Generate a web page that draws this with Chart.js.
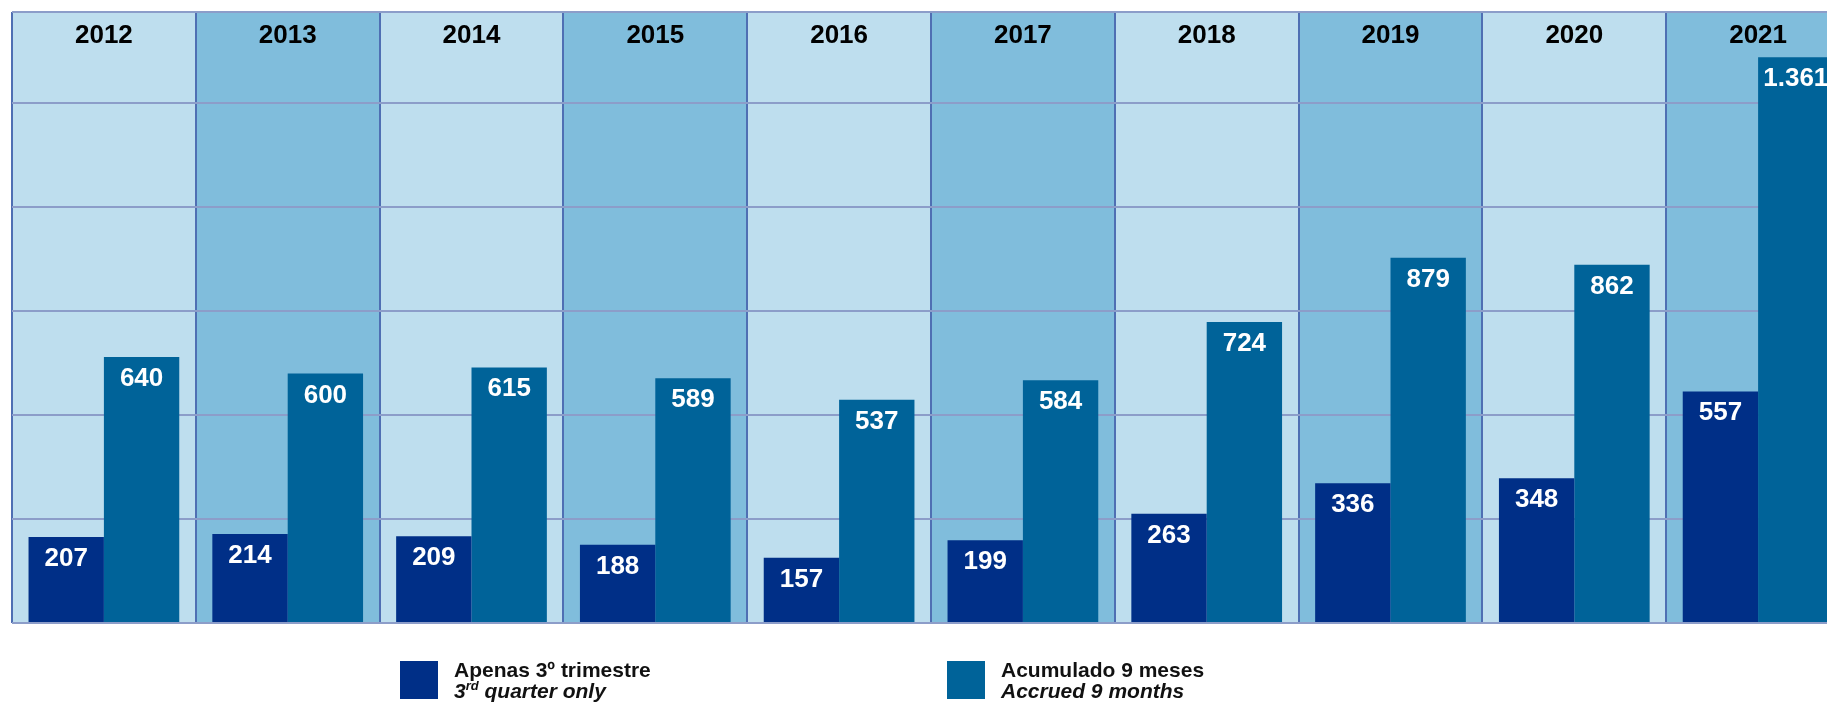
<!DOCTYPE html>
<html>
<head>
<meta charset="utf-8">
<script src="https://cdn.jsdelivr.net/npm/chart.js@4.4.1/dist/chart.umd.min.js"></script>
<style>
    html, body { margin: 0; padding: 0; background: #fff; overflow: hidden; width: 1827px; height: 703px; }
    #wrap { position: relative; width: 1852px; height: 703px; }
    #grafico { display: block; }
    .legenda { position: absolute; top: 661px; font-family: "Liberation Sans", Arial, sans-serif; font-weight: bold; font-size: 21px; line-height: 21px; color: #111; }
    .legenda .caixa { position: absolute; left: 0; top: 0; width: 38px; height: 38px; }
    .legenda .txt { position: absolute; left: 54px; top: -2px; white-space: nowrap; }
    .legenda i sup { font-size: 13px; line-height: 0; }
</style>
</head>
<body>
<div id="wrap">
    <canvas id="grafico" width="1852" height="703"></canvas>

    <div class="legenda" style="left:400px">
        <div class="caixa" style="background:#002F87"></div>
        <div class="txt">Apenas 3º trimestre<br><i>3<sup>rd</sup> quarter only</i></div>
    </div>
    <div class="legenda" style="left:947px">
        <div class="caixa" style="background:#006399"></div>
        <div class="txt">Acumulado 9 meses<br><i>Accrued 9 months</i></div>
    </div>
</div>

<script>
// ============================================================================
// DADOS
// ============================================================================
const anos = ["2012","2013","2014","2015","2016","2017","2018","2019","2020","2021"];
const apenasTrimestre = [207, 214, 209, 188, 157, 199, 263, 336, 348, 557];
const acumulado9Meses = [640, 600, 615, 589, 537, 584, 724, 879, 862, 1361];
// linhas horizontais (a √∫ltima √© a borda de cima)
const ticksY = [0, 250, 500, 750, 1000, 1250, 1470];

const corTrimestre = '#002F87';
const corAcumulado = '#006399';
const fundoClaro = '#BEDEEE';
const fundoEscuro = '#80BDDC';

// 1361 -> "1.361"
function formatarNumero(v) {
    return String(v).replace(/\B(?=(\d{3})+(?!\d))/g, '.');
}


// ============================================================================
// PLUGIN: colunas de fundo alternadas
// ============================================================================
const fundoColunas = {
    id: 'fundoColunas',
    beforeDraw(chart) {
        const { ctx, chartArea, scales } = chart;
        const x = scales.x;
        const larg = x.width / anos.length;

        ctx.save();
        anos.forEach((a, i) => {
            const esq = x.getPixelForValue(i) - larg / 2;
            ctx.fillStyle = i % 2 === 0 ? fundoClaro : fundoEscuro;
            ctx.fillRect(esq, chartArea.top, larg, chartArea.bottom - chartArea.top);
        });
        ctx.restore();
    }
};


// ============================================================================
// PLUGIN: anos no topo + valores nas barras
// ============================================================================
const textos = {
    id: 'textos',
    afterDatasetsDraw(chart) {
        const { ctx, scales } = chart;
        ctx.save();
        ctx.font = 'bold 26px "Liberation Sans", Arial, sans-serif';
        ctx.textAlign = 'center';
        ctx.textBaseline = 'alphabetic';

        // anos
        ctx.fillStyle = '#000';
        anos.forEach((a, i) => {
            ctx.fillText(a, scales.x.getPixelForValue(i), chart.chartArea.top + 31);
        });

        // valores
        ctx.fillStyle = '#fff';
        chart.data.datasets.forEach((ds, d) => {
            chart.getDatasetMeta(d).data.forEach((barra, i) => {
                ctx.fillText(formatarNumero(ds.data[i]), barra.x, barra.y + 29);
            });
        });
        ctx.restore();
    }
};


// ============================================================================
// GR√ÅFICO
// ============================================================================
new Chart(document.getElementById('grafico'), {
    type: 'bar',
    data: {
        labels: anos,
        datasets: [
            { label: 'Apenas 3º trimestre', data: apenasTrimestre, backgroundColor: corTrimestre },
            { label: 'Acumulado 9 meses', data: acumulado9Meses, backgroundColor: corAcumulado }
        ]
    },
    options: {
        responsive: false,
        animation: false,
        devicePixelRatio: 1,
        layout: { padding: { left: 12, top: 12, right: 2, bottom: 80 } },
        datasets: { bar: { categoryPercentage: 0.82, barPercentage: 1 } },
        plugins: { legend: { display: false }, tooltip: { enabled: false } },
        scales: {
            x: {
                offset: true,
                ticks: { display: false },
                grid: { offset: true, color: '#4F6FB3', lineWidth: 2, drawTicks: false },
                border: { display: false }
            },
            y: {
                min: 0,
                max: ticksY[ticksY.length - 1],
                afterBuildTicks: eixo => { eixo.ticks = ticksY.map(v => ({ value: v })); },
                ticks: { display: false },
                grid: { color: '#8C9DC9', lineWidth: 2, drawTicks: false },
                border: { display: false }
            }
        }
    },
    plugins: [fundoColunas, textos]
});
</script>
</body>
</html>
